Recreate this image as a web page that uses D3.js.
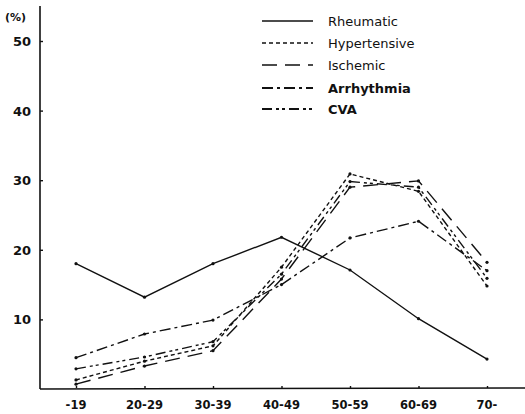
<!DOCTYPE html>
<html><head><meta charset="utf-8">
<script src="https://cdn.jsdelivr.net/npm/d3@7"></script>
<style>body{margin:0;background:#fff}svg{display:block}text{font-family:"DejaVu Sans",Arial,sans-serif;fill:#111}</style>
</head><body><svg id="c" width="525" height="414"></svg>
<script>
const categories = ["-19","20-29","30-39","40-49","50-59","60-69","70-"];
const rheumatic    = [18.0, 13.2, 18.0, 21.8, 17.1, 10.1, 4.3];
const hypertensive = [1.3, 4.0, 6.2, 17.5, 30.9, 28.4, 14.8];
const ischemic     = [0.7, 3.3, 5.5, 15.8, 29.0, 29.9, 18.2];
const arrhythmia   = [4.5, 7.9, 9.9, 15.0, 21.7, 24.1, 17.0];
const cva          = [2.9, 4.6, 6.8, 16.5, 29.8, 29.0, 15.9];
const yTicks = [10, 20, 30, 40, 50];

const series = [
  {name:"Rheumatic", values:rheumatic, dash:null, bold:false},
  {name:"Hypertensive", values:hypertensive, dash:"4,3", bold:false},
  {name:"Ischemic", values:ischemic, dash:"15,8", bold:false},
  {name:"Arrhythmia", values:arrhythmia, dash:"11,4,3,4", bold:true},
  {name:"CVA", values:cva, dash:"10,4,3,3,3,4", bold:true}
];

const svg = d3.select("#c");
const x = d3.scalePoint().domain(categories).range([76, 487]);
const y = d3.scaleLinear().domain([0, 50]).range([389, 41]);

// axes
svg.append("line").attr("x1",40).attr("x2",40).attr("y1",6).attr("y2",389).attr("stroke","#111").attr("stroke-width",1.6);
svg.append("line").attr("x1",40).attr("x2",525).attr("y1",389).attr("y2",388).attr("stroke","#111").attr("stroke-width",1.6);

const yAxis = d3.axisRight(y).tickValues(yTicks).tickSize(3).tickFormat("");
const gy = svg.append("g").attr("transform","translate(40,0)").call(yAxis);
gy.select(".domain").remove();
gy.selectAll("line").attr("stroke","#111").attr("stroke-width",1.4);
svg.selectAll(".ylab").data(yTicks).enter().append("text")
  .attr("x",31).attr("y",d=>y(d)+5).attr("text-anchor","end")
  .attr("font-size",13).attr("font-weight","bold").text(d=>d);
svg.append("text").attr("x",5).attr("y",21).attr("font-size",11).attr("font-weight","bold").text("(%)");

const xAxis = d3.axisTop(x).tickSize(2).tickFormat("");
const gx = svg.append("g").attr("transform","translate(0,388)").call(xAxis);
gx.select(".domain").remove();
gx.selectAll("line").attr("stroke","#111").attr("stroke-width",1.4);
svg.selectAll(".xlab").data(categories).enter().append("text")
  .attr("x",d=>x(d)).attr("y",409).attr("text-anchor","middle")
  .attr("font-size",11.5).attr("font-weight","bold").text(d=>d);

// lines
const line = d3.line().x((d,i)=>x(categories[i])).y(d=>y(d));
series.forEach(s=>{
  svg.append("path").datum(s.values).attr("d",line).attr("fill","none")
    .attr("stroke","#111").attr("stroke-width",1.4)
    .attr("stroke-dasharray",s.dash);
  svg.selectAll(null).data(s.values).enter().append("circle")
    .attr("cx",(d,i)=>x(categories[i])).attr("cy",d=>y(d)).attr("r",1.6).attr("fill","#111");
});

// legend
const ly = [21, 43, 65, 88, 109];
series.forEach((s,i)=>{
  svg.append("line").attr("x1",262).attr("x2",313).attr("y1",ly[i]).attr("y2",ly[i])
    .attr("stroke","#111").attr("stroke-width",s.bold?1.8:1.4).attr("stroke-dasharray",s.dash);
  svg.append("text").attr("x",328).attr("y",ly[i]+4.5).attr("font-size",13)
    .attr("font-weight",s.bold?"bold":"normal").text(s.name);
});
</script></body></html>
